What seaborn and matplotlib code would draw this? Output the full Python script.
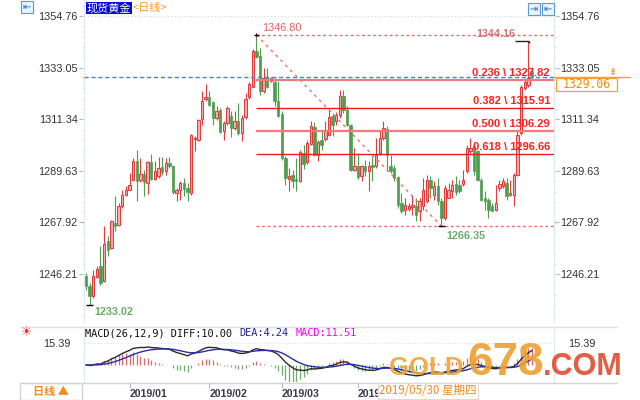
import numpy as np
import pandas as pd
import matplotlib
matplotlib.use('Agg')
import matplotlib.pyplot as plt
import seaborn as sns
from matplotlib.patches import Rectangle
from matplotlib.lines import Line2D
from matplotlib.ticker import MultipleLocator
from matplotlib import font_manager

# ---------------- data ----------------
opens = [1245.3, 1241.0, 1236.9, 1245.0, 1249.5, 1243.2, 1260.0, 1257.2, 1267.7, 1266.7,
         1274.7, 1279.6, 1281.7, 1285.9, 1293.9, 1285.6, 1288.3, 1284.5, 1293.2, 1286.2,
         1287.3, 1291.2, 1289.4, 1292.8, 1291.8, 1280.3, 1281.7, 1284.5, 1282.4, 1280.3,
         1303.2, 1302.7, 1311.4, 1319.8, 1320.6, 1318.4, 1311.8, 1315.3, 1306.2, 1309.7,
         1312.8, 1307.6, 1310.4, 1305.5, 1312.1, 1320.5, 1325.1, 1340.1, 1338.1, 1323.0,
         1328.6, 1327.5, 1327.2, 1319.1, 1313.5, 1295.0, 1286.3, 1287.7, 1286.3, 1285.2,
         1297.2, 1293.3, 1301.1, 1307.9, 1296.1, 1302.7, 1303.1, 1304.8, 1312.5, 1310.4,
         1313.2, 1321.3, 1315.3, 1308.7, 1290.1, 1291.5, 1287.3, 1291.5, 1289.7, 1292.2,
         1291.5, 1297.1, 1303.4, 1307.3, 1291.5, 1290.8, 1286.9, 1276.1, 1273.3, 1273.7,
         1274.3, 1275.0, 1272.6, 1274.7, 1276.8, 1285.9, 1279.6, 1283.1, 1276.8, 1269.8,
         1278.2, 1281.0, 1284.1, 1283.5, 1284.1, 1289.4, 1297.8, 1299.9, 1297.8, 1285.9,
         1278.2, 1277.5, 1274.7, 1273.3, 1282.4, 1283.1, 1284.5, 1279.6, 1279.6, 1288.0,
         1305.5, 1324.4, 1325.8, 1331.5]
highs = [1246.7, 1242.5, 1248.1, 1249.5, 1257.9, 1266.3, 1262.1, 1269.1, 1278.9, 1276.1,
         1281.7, 1283.1, 1288.7, 1294.9, 1298.5, 1294.9, 1290.1, 1293.6, 1296.8, 1293.6,
         1295.4, 1295.4, 1294.9, 1295.3, 1292.2, 1282.4, 1285.2, 1286.6, 1284.5, 1305.2,
         1304.4, 1311.4, 1323.0, 1326.2, 1323.4, 1318.8, 1316.7, 1316.0, 1310.4, 1316.7,
         1314.6, 1314.6, 1318.1, 1313.2, 1322.3, 1327.2, 1340.9, 1346.8, 1341.2, 1332.8,
         1332.8, 1329.3, 1328.6, 1327.5, 1314.6, 1295.7, 1290.8, 1290.1, 1295.0, 1298.5,
         1300.6, 1302.7, 1310.6, 1310.1, 1302.7, 1306.5, 1310.6, 1315.3, 1313.9, 1314.3,
         1323.7, 1323.7, 1316.7, 1309.3, 1299.2, 1297.1, 1292.2, 1294.3, 1293.6, 1295.7,
         1303.4, 1306.2, 1310.4, 1308.3, 1296.4, 1292.2, 1287.3, 1280.3, 1278.2, 1276.1,
         1279.6, 1278.2, 1278.2, 1286.6, 1288.0, 1287.3, 1285.2, 1286.6, 1278.2, 1283.8,
         1284.5, 1285.9, 1287.3, 1285.9, 1290.1, 1300.6, 1303.4, 1300.6, 1298.5, 1286.6,
         1281.0, 1278.2, 1276.1, 1283.8, 1285.9, 1286.6, 1286.6, 1285.9, 1288.7, 1306.2,
         1325.8, 1327.9, 1344.16, 1333.5]
lows = [1239.7, 1233.02, 1236.2, 1244.6, 1241.8, 1242.8, 1253.7, 1256.8, 1264.2, 1266.3,
        1274.0, 1278.9, 1281.4, 1285.2, 1276.8, 1285.0, 1279.2, 1280.0, 1285.6, 1285.9,
        1286.6, 1288.0, 1288.0, 1290.8, 1280.0, 1276.8, 1277.5, 1278.9, 1276.8, 1279.6,
        1297.8, 1302.0, 1309.0, 1318.8, 1316.7, 1309.0, 1311.1, 1305.5, 1302.7, 1309.0,
        1303.8, 1306.9, 1304.8, 1302.0, 1311.5, 1319.9, 1324.7, 1337.0, 1321.6, 1322.3,
        1324.4, 1326.9, 1316.7, 1312.1, 1294.3, 1283.8, 1281.0, 1282.4, 1281.0, 1284.9,
        1290.5, 1292.5, 1300.3, 1295.7, 1293.6, 1298.5, 1302.0, 1304.1, 1304.1, 1309.0,
        1311.8, 1313.9, 1308.3, 1289.4, 1289.4, 1286.3, 1285.2, 1287.3, 1281.0, 1285.2,
        1290.8, 1296.4, 1302.7, 1289.4, 1288.7, 1285.2, 1274.0, 1271.9, 1270.9, 1272.6,
        1271.2, 1268.4, 1268.4, 1273.3, 1276.1, 1278.2, 1277.5, 1275.4, 1266.35, 1269.1,
        1278.2, 1278.2, 1279.6, 1280.3, 1283.1, 1288.7, 1297.1, 1288.0, 1285.2, 1276.8,
        1273.3, 1269.8, 1272.6, 1272.6, 1281.0, 1282.4, 1277.5, 1278.9, 1274.7, 1287.3,
        1304.8, 1323.7, 1325.1, 1328.0]
closes = [1241.1, 1236.9, 1245.3, 1248.4, 1242.5, 1258.9, 1256.5, 1268.4, 1266.3, 1275.0,
          1279.6, 1281.7, 1283.8, 1293.9, 1285.2, 1288.3, 1284.8, 1293.2, 1286.2, 1289.4,
          1290.9, 1289.3, 1292.8, 1291.5, 1280.6, 1281.7, 1284.5, 1282.0, 1280.6, 1304.8,
          1303.5, 1311.1, 1319.2, 1320.6, 1317.4, 1311.8, 1314.9, 1305.8, 1309.7, 1316.0,
          1307.6, 1310.4, 1305.5, 1311.8, 1319.9, 1326.1, 1340.1, 1337.7, 1323.0, 1328.6,
          1325.1, 1328.6, 1319.1, 1312.9, 1295.0, 1286.6, 1287.3, 1285.5, 1285.2, 1297.5,
          1292.5, 1301.3, 1308.3, 1296.4, 1301.7, 1300.6, 1306.5, 1312.1, 1308.7, 1313.2,
          1321.3, 1315.3, 1309.0, 1290.1, 1291.5, 1286.9, 1291.5, 1289.4, 1291.5, 1291.1,
          1296.4, 1303.4, 1307.6, 1296.4, 1289.4, 1286.6, 1275.4, 1272.9, 1275.4, 1274.7,
          1275.4, 1271.2, 1276.8, 1281.7, 1285.9, 1282.4, 1283.1, 1276.8, 1269.8, 1282.4,
          1281.7, 1283.8, 1280.7, 1281.0, 1285.9, 1299.2, 1299.2, 1289.4, 1285.9, 1277.5,
          1276.8, 1273.3, 1272.9, 1276.1, 1284.1, 1285.2, 1278.9, 1280.3, 1288.0, 1304.8,
          1325.1, 1327.2, 1328.6, 1329.06]

price_ticks = [1354.76, 1333.05, 1311.34, 1289.63, 1267.92, 1246.21]
month_pos = [12, 34, 54, 75]
month_labels = ['2019/01', '2019/02', '2019/03', '2019/04']
peak_idx, peak_val = 47, 1346.80
trough_idx, trough_val = 98, 1266.35
fib_ratios = [0.236, 0.382, 0.500, 0.618]
fib_values = [1327.82, 1315.91, 1306.29, 1296.66]
last_price = 1329.06
recent_high_idx, recent_high = 122, 1344.16
low_idx, low_val = 1, 1233.02
macd_top = 15.39
macd_title = 'MACD(26,12,9) DIFF:10.00'
dea_title = 'DEA:4.24'
macd_val_title = 'MACD:11.51'

# ---------------- style ----------------
sns.set_theme(style='white')
plt.rcParams['font.family'] = ['Liberation Sans', 'DejaVu Sans']
CJK = ['Noto Sans CJK SC', 'DejaVu Sans']
names = {f.name for f in font_manager.fontManager.ttflist}
if 'Liberation Sans Narrow' in names:
    NARROW, gold_fs, com_fs = 'Liberation Sans Narrow', 22, 25
else:
    NARROW, gold_fs, com_fs = 'Liberation Sans', 18.5, 22

W, H = 640, 400
fig = plt.figure(figsize=(6.4, 4), dpi=100)
fig.patch.set_facecolor('white')
fx = lambda px: px / W
fy = lambda py: 1 - py / H

L, R = 84, 554
ax = fig.add_axes([fx(L), fy(322), fx(R - L), 322 / H])
axm = fig.add_axes([fx(L), fy(382), fx(R - L), (382 - 327) / H])
XL, XR = -0.55, 129.07
YB, YT = 1226.03, 1361.49

o = np.array(opens); h = np.array(highs); l = np.array(lows); c = np.array(closes)
idx = np.arange(len(c))
up = c >= o
red_edge, red_fill, green = '#e23c3c', '#f5b2b2', '#4f9d4f'

# candles
ax.vlines(idx[up], l[up], h[up], color=red_edge, lw=0.8, zorder=2)
ax.vlines(idx[~up], l[~up], h[~up], color=green, lw=0.8, zorder=2)
ax.bar(idx[up], np.maximum(c[up] - o[up], 0.35), bottom=o[up], width=0.66,
       facecolor=red_fill, edgecolor=red_edge, lw=0.75, zorder=3)
ax.bar(idx[~up], np.maximum(o[~up] - c[~up], 0.35), bottom=c[~up], width=0.66,
       facecolor=green, edgecolor=green, lw=0.5, zorder=3)

# top dotted line
ax.axhline(price_ticks[0], color='#d6d6d6', ls=(0, (1, 2)), lw=0.8, zorder=1)

# fibonacci drawing
fibc = '#f06868'
ax.hlines([peak_val, trough_val], peak_idx, XR, colors=fibc, linestyles=(0, (2, 2)), lw=1, zorder=4)
ax.plot([peak_idx, trough_idx], [peak_val, trough_val], color=fibc, ls=(0, (2, 3)), lw=1, zorder=4)
for r, v in zip(fib_ratios, fib_values):
    pale = r in (0.236, 0.5)
    ax.hlines(v, peak_idx, XR, colors='#f27a7a' if pale else '#e81e1e',
              lw=1.6 if pale else 1.0, zorder=4)
    ax.annotate(f'{r:.3f} \\ {v:.2f}', xy=(128.0, v), xytext=(0, 2), textcoords='offset pixels',
                ha='right', va='bottom', color='#ff1f1f', fontsize=8, fontweight='bold', zorder=6)

# last price line
ax.axhline(last_price, color='#1f8cff', ls=(0, (3, 2)), lw=1, zorder=5)

# extreme markers + labels
ax.hlines(peak_val, peak_idx - 0.8, peak_idx + 0.6, colors='black', lw=1, zorder=6)
ax.vlines(peak_idx, peak_val - 0.6, peak_val + 0.6, colors='black', lw=0.8, zorder=6)
ax.hlines(recent_high, recent_high_idx - 3.8, recent_high_idx + 0.2, colors='#222', lw=1, zorder=6)
ax.vlines(recent_high_idx + 0.2, recent_high - 0.8, recent_high, colors='#222', lw=1, zorder=6)
ax.hlines(trough_val, trough_idx - 0.8, trough_idx + 1.0, colors='black', lw=1, zorder=6)
ax.hlines(low_val, low_idx - 0.9, low_idx + 1.0, colors='black', lw=1, zorder=6)

ax.annotate(f'{peak_val:.2f}', xy=(peak_idx, peak_val), xytext=(6, 2), textcoords='offset pixels',
            ha='left', va='bottom', color='#e06060', fontsize=7.8)
ax.annotate(f'{recent_high:.2f}', xy=(recent_high_idx, recent_high), xytext=(-13, 7),
            textcoords='offset pixels', ha='right', va='center', color='#c86060', fontsize=7.8,
            fontweight='bold', alpha=0.85)
ax.annotate(f'{trough_val:.2f}', xy=(trough_idx, trough_val), xytext=(5, -9.5),
            textcoords='offset pixels', ha='left', va='center', color='#6aab6a', fontsize=7.8,
            fontweight='bold')
ax.annotate(f'{low_val:.2f}', xy=(low_idx, low_val), xytext=(5, -6.5),
            textcoords='offset pixels', ha='left', va='center', color='#6aab6a', fontsize=7.8,
            fontweight='bold')

ax.set_xlim(XL, XR)
ax.set_ylim(YB, YT)
ax.set_xticks([])
ax.set_yticks(price_ticks)
ax.set_yticklabels([f'{v:.2f}' for v in price_ticks])
ax.yaxis.set_minor_locator(MultipleLocator(4.342))
ax.tick_params(axis='y', which='major', left=True, right=True, labelleft=True, labelright=True,
               direction='out', length=3.5, width=0.8, color='#a8b8c8', labelsize=7.8,
               labelcolor='#333333', pad=1)
ax.tick_params(axis='y', which='minor', left=True, right=True, direction='out', length=1.5,
               width=0.8, color='#d4e0ea')
for s in ['top', 'bottom']:
    ax.spines[s].set_visible(False)
for s in ['left', 'right']:
    ax.spines[s].set_color('#dfe8f0')
    ax.spines[s].set_linewidth(0.8)

# ---------------- MACD panel ----------------
cs = pd.Series(closes)
ema12 = cs.ewm(span=12, adjust=False).mean()
ema26 = cs.ewm(span=26, adjust=False).mean()
diff = ema12 - ema26
dea = diff.ewm(span=9, adjust=False).mean()
hist = 2 * (diff - dea)
axm.vlines(idx, 0, hist, colors=np.where(hist >= 0, '#e36a6a', '#6aae6a'), lw=0.9)
sns.lineplot(x=idx, y=diff.values, ax=axm, color='#2a2a2a', lw=1)
sns.lineplot(x=idx, y=dea.values, ax=axm, color='#2b2bb0', lw=1)
axm.axhline(macd_top, color='#dcdcdc', ls=(0, (1, 2)), lw=0.8)
axm.set_xlim(XL, XR)
axm.set_ylim(-12.0, 26.6)
axm.set_yticks([macd_top])
axm.set_yticklabels([f'{macd_top:.2f}'])
axm.tick_params(axis='y', left=False, right=False, labelleft=True, labelright=True,
                labelsize=7.8, labelcolor='#333333', pad=4)
axm.set_xticks(month_pos)
axm.set_xticklabels(month_labels)
axm.tick_params(axis='x', bottom=True, direction='out', length=4, width=0.8, color='#a8b8c8',
                labelsize=7.6, labelcolor='#3a3a4a', pad=1)
for t in axm.get_xticklabels():
    t.set_ha('left')
    t.set_fontweight('bold')
for s in ['top', 'bottom']:
    axm.spines[s].set_visible(False)
for s in ['left', 'right']:
    axm.spines[s].set_color('#dfe8f0')
    axm.spines[s].set_linewidth(0.8)
axm.set_ylabel('')

# ---------------- frame lines / boxes ----------------
fig.add_artist(Line2D([fx(20), fx(617)], [fy(327)] * 2, color='#e2e2e2', lw=1))
fig.add_artist(Line2D([fx(20), fx(617)], [fy(382.5)] * 2, color='#d4d4d4', lw=1))
fig.add_artist(Rectangle((fx(20), fy(400)), fx(62), 17.5 / H, transform=fig.transFigure,
                         fill=False, ec='#d4d4d4', lw=1))
fig.text(fx(51), fy(391), '日线 ▲', ha='center', va='center', color='#f08c1c', fontsize=8,
         fontweight='bold', family=CJK)

# MACD title
cw = 0.602 * 7.4 * 100 / 72
fig.text(fx(85), fy(333), macd_title, family='DejaVu Sans Mono', fontsize=7.4, color='#111111', va='center')
fig.text(fx(85 + 25 * cw), fy(333), dea_title, family='DejaVu Sans Mono', fontsize=7.4, color='#2020a0', va='center')
fig.text(fx(85 + 34 * cw), fy(333), macd_val_title, family='DejaVu Sans Mono', fontsize=7.4, color='#ff00ff', va='center')
fig.text(fx(27), fy(333), '☀', ha='center', va='center', color='#e23030', fontsize=9, family='DejaVu Sans')

# title
fig.text(fx(87), fy(8), '现货黄金', ha='left', va='center', color='white', fontsize=8, family=CJK,
         bbox=dict(boxstyle='square,pad=0.08', fc='#0808d8', ec='none'))
fig.text(fx(133), fy(8), '<日线>', ha='left', va='center', color='#f39a2b', fontsize=8, family=CJK)

# icons
fig.text(fx(27), fy(7), '⇤', ha='center', va='center', color='#2a6ebb', fontsize=7, family='DejaVu Sans',
         bbox=dict(boxstyle='square,pad=0.15', fc='#eaf3fb', ec='#5a9bd5', lw=0.8))
fig.text(fx(534), fy(9), '⇥', ha='center', va='center', color='#2a6ebb', fontsize=7, family='DejaVu Sans',
         bbox=dict(boxstyle='square,pad=0.15', fc='#eaf3fb', ec='#5a9bd5', lw=0.8))
fig.text(fx(548), fy(9), '⇤', ha='center', va='center', color='#2a6ebb', fontsize=7, family='DejaVu Sans',
         bbox=dict(boxstyle='square,pad=0.15', fc='#eaf3fb', ec='#5a9bd5', lw=0.8))

# last price box on right
ax.plot([XR, XR + (630 - 554) / 3.626], [last_price] * 2, color='#f5a030', lw=1, clip_on=False, zorder=5)
fig.add_artist(Rectangle((fx(556), fy(91)), fx(61), 13 / H, transform=fig.transFigure,
                         fc='white', ec='#f5a030', lw=0.9))
fig.text(fx(586.5), fy(84.5), f'{last_price:.2f}', ha='center', va='center', color='#f08c00',
         fontsize=8.3, family='DejaVu Sans Mono')
fig.text(fx(612), fy(72), '⇟', ha='center', va='center', color='#f08c00', fontsize=7, family='DejaVu Sans')

# date box
fig.text(fx(428), fy(391), '2019/05/30 星期四', ha='center', va='center', color='#f08c1c',
         fontsize=8.3, family=CJK,
         bbox=dict(boxstyle='square,pad=0.15', fc='white', ec='#dcdcdc', lw=0.8))

# watermark
fig.text(fx(389), fy(375), 'GOLD', ha='left', va='baseline', color='#f0a436', alpha=0.9,
         fontsize=gold_fs, fontweight='bold', family=NARROW)
fig.text(fx(467), fy(375), '678', ha='left', va='baseline', color='#eea030', alpha=0.9,
         fontsize=33, fontweight='bold', family='Liberation Sans')
fig.text(fx(623), fy(375), '.COM', ha='right', va='baseline', color='#e0563a', alpha=0.95,
         fontsize=com_fs, fontweight='bold', family=NARROW)

fig.savefig('out.png', dpi=100, facecolor='white')
